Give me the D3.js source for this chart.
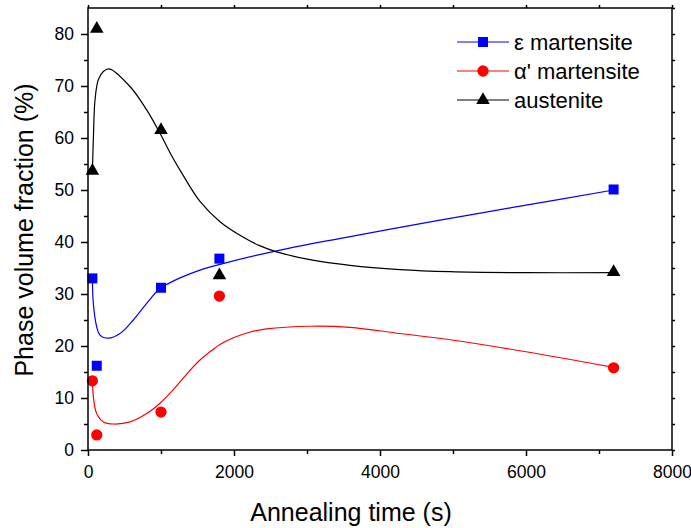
<!DOCTYPE html>
<html>
<head>
<meta charset="utf-8">
<script src="https://cdn.jsdelivr.net/npm/d3@7"></script>
<style>
  body { margin: 0; background: #fff; }
  text { font-family: "Liberation Sans", Arial, sans-serif; fill: #000; }
</style>
</head>
<body>
<div id="main"></div>
<script>
const ctx = { w: 691, h: 528 };
const margin = { left: 88, right: 19, top: 8, bottom: 78 };

// measured points
const times = [60, 120, 1000, 1800, 7200];
const epsilon = [33.0, 16.2, 31.2, 36.8, 50.1];
const alpha = [13.3, 2.9, 7.3, 29.6, 15.8];
const austenite = [53.7, 81.0, 61.5, 33.6, 34.2];

// fitted curves
const epsCurveT = [60, 73, 119, 164, 278, 438, 621, 804, 986, 1100, 1260, 1534, 1808, 2584, 3500, 4822, 5800, 7200];
const epsCurveV = [33.2, 28.2, 23.7, 22.1, 21.5, 22.4, 25.0, 28.2, 31.1, 32.0, 33.1, 34.6, 35.7, 38.3, 40.8, 44.2, 46.6, 50.0];
const alphaCurveT = [64, 73, 119, 210, 347, 575, 804, 986, 1169, 1352, 1534, 1700, 1808, 1991, 2200, 2447, 3041, 3589, 4274, 4959, 6000, 7200];
const alphaCurveV = [13.3, 10.3, 7.0, 5.4, 5.0, 5.4, 7.0, 9.0, 11.6, 14.6, 17.3, 19.2, 20.3, 21.6, 22.6, 23.3, 23.8, 23.6, 22.4, 21.2, 18.9, 15.9];
const austCurveT = [60, 73, 96, 141, 210, 292, 575, 804, 986, 1150, 1283, 1534, 1808, 2128, 2350, 2584, 3041, 3589, 4274, 4959, 6000, 7200];
const austCurveV = [53.8, 59.6, 67.3, 71.2, 72.8, 73.3, 69.9, 65.4, 60.9, 56.5, 53.3, 47.8, 43.9, 40.9, 39.3, 38.1, 36.6, 35.5, 34.7, 34.3, 34.1, 34.1];

const xMajor = [0, 2000, 4000, 6000, 8000];
const xMinor = [1000, 3000, 5000, 7000];
const yMajor = [0, 10, 20, 30, 40, 50, 60, 70, 80];
const yMinor = [5, 15, 25, 35, 45, 55, 65, 75, 85];

const seriesNames = ["ε martensite", "α' martensite", "austenite"];
const seriesColors = ["#0000ff", "#ff0000", "#000000"];

const svg = d3.select("#main").append("svg")
    .attr("width", ctx.w)
    .attr("height", ctx.h);

const x = d3.scaleLinear().domain([0, 8000]).range([margin.left, ctx.w - margin.right]);
const y = d3.scaleLinear().domain([0, 85]).range([ctx.h - margin.bottom, margin.top]);

const x0 = x.range()[0], x1 = x.range()[1];
const y0 = y.range()[0], y1 = y.range()[1];

// curves
const line = d3.line().x(d => x(d[0])).y(d => y(d[1])).curve(d3.curveCatmullRom.alpha(0.5));
const curves = [
    d3.zip(epsCurveT, epsCurveV),
    d3.zip(alphaCurveT, alphaCurveV),
    d3.zip(austCurveT, austCurveV)
];
curves.forEach((c, i) => {
    svg.append("path")
        .attr("d", line(c))
        .attr("fill", "none")
        .attr("stroke", seriesColors[i])
        .attr("stroke-width", 1.2);
});

// markers
const symbols = [d3.symbolSquare, d3.symbolCircle, d3.symbolTriangle];
const sizes = [100, 100, 80];
[epsilon, alpha, austenite].forEach((vals, i) => {
    svg.append("g").selectAll("path")
        .data(d3.zip(times, vals))
        .enter().append("path")
        .attr("transform", d => `translate(${x(d[0])},${y(d[1])})`)
        .attr("d", d3.symbol().type(symbols[i]).size(sizes[i]))
        .attr("fill", seriesColors[i]);
});

// axes
function styleAxis(g) {
    g.selectAll("line").attr("stroke", "#000").attr("stroke-width", 1.5);
    g.selectAll("text").style("font-size", "17.5px").style("font-family", "'Liberation Sans', Arial, sans-serif");
    g.select(".domain").remove();
}
svg.append("g").attr("transform", `translate(0,${y0})`)
    .call(d3.axisBottom(x).tickValues(xMajor).tickSize(6).tickPadding(10).tickFormat(d3.format("d")))
    .call(styleAxis);
svg.append("g").attr("transform", `translate(0,${y0})`)
    .call(d3.axisBottom(x).tickValues(xMinor).tickSize(4).tickFormat(""))
    .call(styleAxis);
svg.append("g").attr("transform", `translate(${x0},0)`)
    .call(d3.axisLeft(y).tickValues(yMajor).tickSize(7).tickPadding(7))
    .call(styleAxis);
svg.append("g").attr("transform", `translate(${x0},0)`)
    .call(d3.axisLeft(y).tickValues(yMinor.filter(v => v < 85)).tickSize(4).tickFormat(""))
    .call(styleAxis);
svg.append("g").attr("transform", `translate(0,${y1})`)
    .call(d3.axisTop(x).tickValues(xMajor.concat(xMinor)).tickSize(3).tickFormat(""))
    .call(styleAxis);
svg.append("g").attr("transform", `translate(${x1},0)`)
    .call(d3.axisRight(y).tickValues(yMajor.concat(yMinor)).tickSize(3).tickFormat(""))
    .call(styleAxis);

// frame
svg.append("rect")
    .attr("x", x0).attr("y", y1)
    .attr("width", x1 - x0).attr("height", y0 - y1)
    .attr("fill", "none").attr("stroke", "#000").attr("stroke-width", 1.5);

// titles
svg.append("text")
    .attr("x", 351).attr("y", 521)
    .attr("text-anchor", "middle")
    .style("font-size", "25px")
    .text("Annealing time (s)");
svg.append("text")
    .attr("transform", "translate(33,230) rotate(-90)")
    .attr("text-anchor", "middle")
    .style("font-size", "25px")
    .text("Phase volume fraction (%)");

// legend
const legend = svg.append("g");
seriesNames.forEach((name, i) => {
    const ly = 42 + i * 29;
    legend.append("line")
        .attr("x1", 457).attr("x2", 509).attr("y1", ly).attr("y2", ly)
        .attr("stroke", seriesColors[i]).attr("stroke-width", 1.2);
    legend.append("path")
        .attr("transform", `translate(483,${ly})`)
        .attr("d", d3.symbol().type(symbols[i]).size(sizes[i]))
        .attr("fill", seriesColors[i]);
    legend.append("text")
        .attr("x", 514).attr("y", ly).attr("dy", "0.35em")
        .style("font-size", "22px")
        .text(name);
});
</script>
</body>
</html>
